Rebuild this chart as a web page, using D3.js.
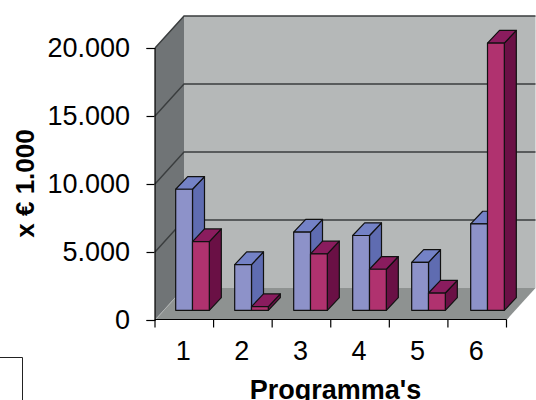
<!DOCTYPE html>
<html>
<head>
<meta charset="utf-8">
<script src="https://cdnjs.cloudflare.com/ajax/libs/d3/7.8.5/d3.min.js"></script>
<style>
    html, body { margin: 0; padding: 0; background: #fff; }
    svg { display: block; }
    text { font-family: "Liberation Sans", Arial, sans-serif; fill: #000; }
</style>
</head>
<body>
<svg id="chart" width="536" height="400"></svg>
<script>
// Data
const categories = ["1", "2", "3", "4", "5", "6"];
const seriesBlue = [8900, 3360, 5750, 5500, 3530, 6350];
const seriesRed = [5050, 270, 4150, 3020, 1270, 19650];
const yTicks = [0, 5000, 10000, 15000, 20000];
const yTickLabels = ["0", "5.000", "10.000", "15.000", "20.000"];

const svg = d3.select("#chart");

// Chart box, front plane and depth of the 3D walls
const plotLeft = 155, plotRight = 506.5, plotBottom = 320, plotTop = 48;
const wallDx = 29, wallDy = -32;
// Bars stand a little way inside the floor
const barDx = 8, barDy = -9.7, barDepthX = 12, barDepthY = -12.7;

const y = d3.scaleLinear().domain([0, 20000]).range([plotBottom, plotTop]);
const x = d3.scaleBand().domain(categories).range([plotLeft, plotRight]);
const xBars = d3.scaleBand().domain(categories)
    .range([plotLeft + barDx, plotRight + barDx + 2.5])
    .paddingInner(0.43).paddingOuter(0.215);
const xSeries = d3.scaleBand().domain(["blue", "red"]).range([0, xBars.bandwidth()]);

const poly = pts => pts.map(p => p.join(",")).join(" ");

// Walls and floor
svg.append("polygon")
    .attr("points", poly([[plotLeft + wallDx, plotTop + wallDy], [plotRight + wallDx, plotTop + wallDy], [plotRight + wallDx, plotBottom + wallDy], [plotLeft + wallDx, plotBottom + wallDy]]))
    .attr("fill", "#b5b8b8");
svg.append("polygon")
    .attr("points", poly([[plotLeft, plotTop], [plotLeft + wallDx, plotTop + wallDy], [plotLeft + wallDx, plotBottom + wallDy], [plotLeft, plotBottom]]))
    .attr("fill", "#707476");
svg.append("polygon")
    .attr("points", poly([[plotLeft, plotBottom], [plotLeft + wallDx, plotBottom + wallDy], [plotRight + wallDx, plotBottom + wallDy], [plotRight, plotBottom]]))
    .attr("fill", "#8e9291");
svg.append("line")
    .attr("x1", plotLeft).attr("y1", plotBottom).attr("x2", plotLeft + wallDx).attr("y2", plotBottom + wallDy)
    .attr("stroke", "#b0b3b3").attr("stroke-width", 1);

// Gridlines run over the side wall and along the back wall
yTicks.filter(d => d > 0).forEach(d => {
    svg.append("polyline")
        .attr("points", poly([[plotLeft, y(d)], [plotLeft + wallDx, y(d) + wallDy], [plotRight + wallDx, y(d) + wallDy]]))
        .attr("fill", "none")
        .attr("stroke", "#3a3d3e")
        .attr("stroke-width", 1.4);
});

// Bars, painted back to front
const barColors = {
    blue: { front: "#8d92c9", side: "#5f6cb1", top: "#7482c6" },
    red: { front: "#b0326f", side: "#6a1045", top: "#8a1c5e" }
};

function drawBar(cat, name, value) {
    const x0 = xBars(cat) + xSeries(name);
    const x1 = x0 + xSeries.bandwidth();
    const y0 = y(0) + barDy;
    const y1 = y0 - (y(0) - y(value));
    const c = barColors[name];
    const g = svg.append("g").attr("stroke", "#111").attr("stroke-width", 1.2).attr("stroke-linejoin", "round");
    g.append("polygon").attr("fill", c.side)
        .attr("points", poly([[x1, y0], [x1 + barDepthX, y0 + barDepthY], [x1 + barDepthX, y1 + barDepthY], [x1, y1]]));
    g.append("polygon").attr("fill", c.top)
        .attr("points", poly([[x0, y1], [x0 + barDepthX, y1 + barDepthY], [x1 + barDepthX, y1 + barDepthY], [x1, y1]]));
    g.append("rect").attr("fill", c.front)
        .attr("x", x0).attr("y", y1).attr("width", x1 - x0).attr("height", y0 - y1);
}

categories.forEach((cat, i) => {
    drawBar(cat, "blue", seriesBlue[i]);
    drawBar(cat, "red", seriesRed[i]);
});

// Axes
const yAxis = d3.axisLeft(y).tickValues(yTicks).tickFormat((d, i) => yTickLabels[i]).tickSize(8).tickPadding(16.5);
const gy = svg.append("g").attr("transform", `translate(${plotLeft - 0.5},0)`).call(yAxis);
gy.selectAll("text").attr("font-size", 27).style("font-family", '"Liberation Sans", Arial, sans-serif');
gy.selectAll("line, path").attr("stroke", "#000").attr("stroke-width", 1.2);

const xAxis = d3.axisBottom(x).tickSize(0).tickPadding(21);
const gx = svg.append("g").attr("transform", `translate(0,${plotBottom - 0.5})`).call(xAxis);
gx.selectAll("text").attr("font-size", 27).attr("dx", -1).style("font-family", '"Liberation Sans", Arial, sans-serif');
gx.select("path").attr("stroke", "#000").attr("stroke-width", 1.2).attr("d", `M${plotLeft},0H${plotRight}`);
gx.selectAll(".tick line").remove();
// Category ticks sit on the band edges
gx.selectAll(".edge").data(categories.concat("end")).join("line")
    .attr("x1", (d, i) => plotLeft + i * x.step())
    .attr("x2", (d, i) => plotLeft + i * x.step())
    .attr("y1", 0).attr("y2", 8)
    .attr("stroke", "#000").attr("stroke-width", 1.2);

// Axis titles
svg.append("text")
    .attr("x", 335.5).attr("y", 399)
    .attr("text-anchor", "middle")
    .attr("font-size", 27).attr("font-weight", "bold")
    .text("Programma's");
svg.append("text")
    .attr("transform", "translate(34,183.5) rotate(-90)")
    .attr("text-anchor", "middle")
    .attr("font-size", 26).attr("font-weight", "bold")
    .text("x € 1.000");

// Corner of the box cut off at the lower left
svg.append("polyline")
    .attr("points", poly([[0, 357.5], [22.5, 357.5], [22.5, 400]]))
    .attr("fill", "none").attr("stroke", "#222").attr("stroke-width", 1);
</script>
</body>
</html>
